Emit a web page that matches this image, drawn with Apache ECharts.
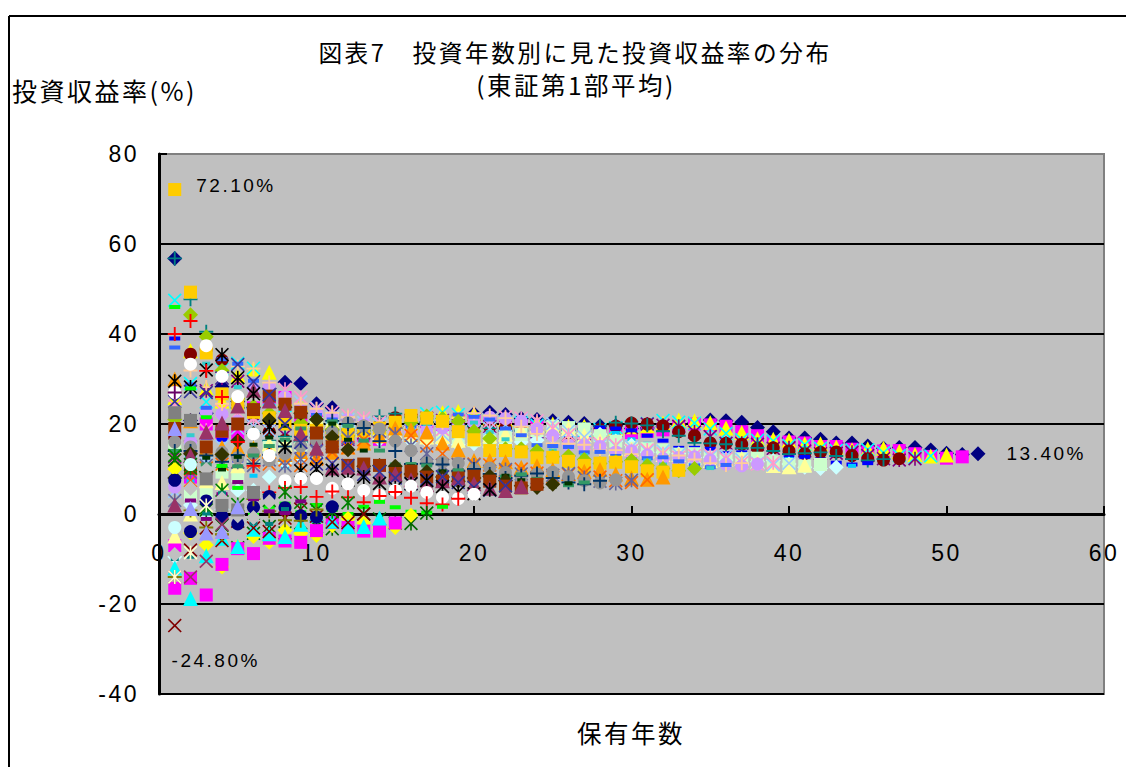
<!DOCTYPE html>
<html>
<head>
<meta charset="utf-8">
<style>html,body{margin:0;padding:0;background:#fff}#chart{width:1126px;height:767px}#chart svg text{letter-spacing:2.5px}</style>
<script src="https://cdn.jsdelivr.net/npm/echarts@6/dist/echarts.min.js"></script>
</head>
<body>
<div id="chart"></div>
<script>
// one list per start year, index = holding years - 1
const r01 = [56.8,20.8,22.4,28.3,25,23.6,27.9,29.3,29,24.5,23.6,20.9,19.6,20,19,19.4,20.4,20.4,20.1,22.3,22.6,22.1,21.2,21,20.7,20.4,20.1,19.6,19.6,19,19.1,19.5,19.7,20.2,20.9,20.7,20.4,19.2,18.3,16.9,16.9,16.6,15.8,15.8,15.1,14.6,14.8,14.8,14.2,13.5,13.2,13.4];
const r02 = [-7,8.2,20,18.1,17.9,23.6,25.7,25.9,21.4,20.7,18.1,17,17.5,16.6,17.3,18.4,18.6,18.4,20.7,21.1,20.7,19.8,19.6,19.4,19.2,18.9,18.4,18.4,17.8,18.1,18.4,18.7,19.3,20,19.8,19.5,18.3,17.4,16,16,15.8,15,15,14.4,13.8,14,14.1,13.4,12.8,12.4,12.7];
const r03 = [25.9,36.3,27.9,25.1,30.9,32.2,31.5,25.5,24.3,21,19.5,19.8,18.7,19.3,20.4,20.4,20,22.5,22.8,22.3,21.3,21,20.7,20.4,20,19.5,19.5,18.9,19,19.4,19.6,20.2,20.9,20.7,20.3,19.1,18.1,16.7,16.6,16.4,15.6,15.6,14.9,14.3,14.5,14.6,13.9,13.2,12.9,13.1];
const r04 = [47.5,29,24.9,32.2,33.5,32.4,25.5,24.1,20.4,18.9,19.2,18.1,18.7,20,20.1,19.7,22.3,22.6,22.1,21,20.8,20.4,20.2,19.7,19.2,19.2,18.6,18.8,19.2,19.5,20.1,20.8,20.4,20.2,18.9,17.9,16.5,16.4,16.2,15.2,15.4,14.6,14.1,14.2,14.3,13.6,13,12.6,12.9];
const r05 = [12.7,14.9,27.4,30.2,29.5,22,21,17.5,16,16.8,15.7,16.6,18,18.3,18,20.8,21.3,20.8,19.8,19.6,19.4,19.1,18.8,18.3,18.3,17.6,17.8,18.3,18.5,19.2,20,19.7,19.5,18.2,17.2,15.7,15.7,15.5,14.6,14.7,14,13.4,13.5,13.7,13,12.3,12,12.3];
const r06 = [17,35.5,36.6,34.2,24,22.5,18.2,16.4,17.2,16.1,17,18.5,18.8,18.4,21.4,21.9,21.3,20.2,20,19.7,19.4,19,18.5,18.5,17.8,18.1,18.5,18.8,19.5,20.2,20,19.6,18.3,17.4,15.8,15.7,15.5,14.6,14.7,14,13.4,13.7,13.8,13,12.3,12,12.3];
const r07 = [56.8,47.7,40.5,25.9,23.6,18.3,16.3,17.2,16,17,18.6,18.9,18.5,21.7,22.3,21.5,20.4,20.2,19.8,19.5,19.1,18.5,18.5,17.8,18.1,18.5,18.9,19.5,20.3,20.1,19.7,18.4,17.4,15.8,15.7,15.5,14.6,14.7,14,13.3,13.5,13.7,12.9,12.2,11.9,12.2];
const r08 = [39,33,17,16.5,11.9,10.7,12.5,11.6,13.3,15.5,16,15.8,19.4,20.1,19.5,18.4,18.3,18.1,17.8,17.5,17,17.1,16.4,16.8,17.2,17.6,18.3,19.2,19,18.6,17.4,16.3,14.7,14.7,14.5,13.5,13.7,13,12.4,12.6,12.7,12.1,11.4,11,11.3];
const r09 = [27.1,7.3,9.7,6,5.8,8.5,8.2,10.4,13.1,13.9,13.9,17.8,18.8,18.3,17.1,17.1,16.9,16.8,16.4,16,16.1,15.5,15.8,16.4,16.8,17.6,18.5,18.3,18,16.6,15.6,14,14,13.8,12.9,13.1,12.3,11.7,12,12.2,11.4,10.7,10.4,10.7];
const r10 = [-9.5,2,-0.3,1,5.2,5.3,8.2,11.4,12.4,12.6,17,18.1,17.6,16.5,16.4,16.3,16.2,15.8,15.4,15.6,14.9,15.4,16,16.4,17.2,18.2,17.9,17.7,16.2,15.3,13.7,13.7,13.4,12.5,12.6,12,11.3,11.6,11.9,11.1,10.4,10.1,10.4];
const r11 = [15,4.6,4.7,9.3,8.5,11.5,14.8,15.6,15.4,20.1,20.9,20.2,18.8,18.5,18.3,17.9,17.6,17,17.1,16.3,16.6,17.2,17.7,18.5,19.5,19.2,18.9,17.4,16.2,14.6,14.5,14.2,13.3,13.4,12.6,12,12.3,12.4,11.6,11,10.6,11];
const r12 = [-4.9,0,7.4,7,10.7,14.8,15.6,15.5,20.7,21.5,20.7,19.1,18.9,18.5,18.2,17.7,17.1,17.2,16.4,16.8,17.4,17.8,18.6,19.7,19.4,19,17.5,16.3,14.5,14.5,14.2,13.2,13.3,12.6,11.9,12.2,12.4,11.6,10.8,10.5,10.9];
const r13 = [5,14.1,11.3,15,19.1,19.5,18.6,24.4,24.9,23.6,21.5,21,20.3,20,19.4,18.6,18.6,17.7,18,18.6,19,19.8,20.9,20.6,20.1,18.4,17.1,15.2,15.1,14.9,13.9,14,13.2,12.4,12.7,12.9,12.1,11.3,10.9,11.3];
const r14 = [24,14.7,18.6,23,22.6,21.2,27.4,27.7,25.9,23.4,22.6,21.9,21.3,20.4,19.6,19.6,18.4,18.8,19.4,19.7,20.6,21.6,21.3,20.7,19,17.6,15.6,15.6,15.3,14.1,14.2,13.4,12.6,13,13.1,12.3,11.4,11.1,11.4];
const r15 = [6,16.1,22.6,22.2,20.6,27.9,28.1,26,23.2,22.5,21.6,21,20.2,19.3,19.2,18.2,18.5,19.1,19.5,20.4,21.5,21.2,20.6,18.8,17.4,15.3,15.2,15,13.8,14,13.1,12.3,12.6,12.7,12,11.1,10.7,11.1];
const r16 = [27,31.9,28.2,24.5,32.8,32.3,29.2,25.6,24.5,23.4,22.5,21.5,20.4,20.3,19,19.4,20,20.3,21.3,22.4,21.9,21.3,19.4,17.8,15.7,15.6,15.4,14.1,14.2,13.3,12.5,12.9,13,12.1,11.3,10.9,11.3];
const r17 = [37,28.8,23.6,34.4,33.4,29.6,25.4,24.2,23,22,21,19.8,19.8,18.4,18.9,19.5,20,20.9,22.1,21.6,21,19,17.5,15.3,15.1,14.9,13.7,13.8,12.9,12.1,12.4,12.6,11.7,10.8,10.4,10.9];
const r18 = [21,17.5,33.4,32.6,28.2,23.6,22.4,21.3,20.4,19.5,18.4,18.4,17.1,17.7,18.4,18.9,20,21.4,20.9,20.3,18.2,16.6,14.5,14.3,14.1,12.9,13.1,12.1,11.3,11.6,11.9,11,10.2,9.7,10.2];
const r19 = [21,44.3,39.4,31.9,25.6,23.9,22.4,21.3,20.2,18.9,18.8,17.4,17.9,18.6,19.2,20.4,21.8,21.2,20.6,18.4,16.8,14.5,14.5,14,12.7,12.9,12.1,11.2,11.6,11.9,10.8,10.1,9.6,10.1];
const r20 = [72.1,49.3,35.8,26.7,24.5,22.6,21.4,20,18.6,18.6,17,17.7,18.5,19.1,20.4,21.9,21.3,20.6,18.3,16.5,14.1,14.1,13.8,12.5,12.6,11.7,10.8,11.3,11.5,10.5,9.6,9.3,9.7];
const r21 = [30,20.7,14.5,14.8,14.7,14.6,14,13.2,13.9,12.6,13.7,14.9,15.8,17.4,19.1,18.7,18.2,15.8,14.2,11.9,11.9,11.6,10.4,10.7,9.9,9,9.5,9.9,8.9,8,7.7,8.2];
const r22 = [12,7.4,10.2,11.1,11.6,11.5,11.1,12,10.8,12.2,13.7,14.7,16.5,18.4,17.9,17.5,15.1,13.4,11,11.1,10.9,9.6,10,9.1,8.2,8.8,9.1,8.2,7.4,7,7.6];
const r23 = [3,9.3,10.8,11.6,11.5,10.8,12,10.7,12.2,13.9,15,16.9,18.9,18.4,17.8,15.2,13.4,10.8,11,10.9,9.5,9.9,8.9,8.1,8.6,9,8.1,7.3,6.8,7.5];
const r24 = [16,14.9,14.6,13.7,12.5,13.5,11.9,13.4,15.1,16.3,18.2,20.3,19.6,18.9,16.2,14.1,11.4,11.5,11.3,9.9,10.2,9.2,8.3,8.9,9.3,8.3,7.4,6.9,7.6];
const r25 = [14,14,13,11.6,13.1,11.2,13.1,15,16.3,18.4,20.7,20,19.1,16.2,14,11.1,11.2,11,9.5,10,8.9,8,8.5,9,8,7,6.6,7.4];
const r26 = [14,12.5,11,13,10.6,13,15.1,16.5,19,21.4,20.6,19.6,16.3,14.1,11,11.1,10.8,9.3,9.7,8.7,7.7,8.3,8.8,7.8,6.8,6.4,7];
const r27 = [11,9.4,12.5,9.9,12.7,15.4,17,19.6,22.3,21.2,20.1,16.5,14.1,10.7,10.8,10.6,9,9.5,8.3,7.5,8.1,8.5,7.5,6.5,6.1,6.8];
const r28 = [8,13.4,9.4,13.2,16.3,17.9,20.9,23.7,22.4,21,17.1,14.3,10.6,10.8,10.6,8.9,9.4,8.2,7.3,8,8.4,7.4,6.3,5.9,6.6];
const r29 = [19,10.2,14.9,18.4,20,23.2,26.2,24.4,22.6,18,14.9,10.8,11.1,10.8,9,9.5,8.2,7.3,8,8.4,7.3,6.2,5.8,6.6];
const r30 = [2,13,18.2,20.2,24,27.5,25.1,23,17.9,14.6,10.2,10.4,10.2,8.2,8.9,7.6,6.5,7.4,8,6.7,5.7,5.2,6.1];
const r31 = [25,27.2,27,30.2,33.2,29.4,26.5,20,15.9,11.1,11.2,10.8,8.8,9.4,8,6.8,7.7,8.3,7,5.9,5.3,6.3];
const r32 = [29.5,28.2,32,35.4,30.3,26.7,19.4,14.9,9.6,10,9.7,7.5,8.2,6.8,5.8,6.7,7.4,6.1,4.9,4.5,5.4];
const r33 = [27,33.3,37.4,30.6,26.1,17.8,13,7.4,7.9,7.9,5.7,6.7,5.2,4.2,5.3,6.2,4.8,3.7,3.4,4.4];
const r34 = [40,42.9,31.8,26,16,10.7,4.8,5.8,6,3.8,5,3.7,2.6,4,4.9,3.6,2.4,2.1,3.4];
const r35 = [46,27.9,21.5,10.7,5.8,-0.2,1.6,2.3,0.4,2,0.9,0,1.6,2.7,1.5,0.5,0.3,1.6];
const r36 = [12,11,0.9,-2.5,-7.5,-4.3,-2.8,-4.2,-2,-2.8,-3.3,-1.5,0,-1.1,-2,-2.1,0.2];
const r37 = [10,-4.2,-6.9,-11.8,-7.3,-5,-6.3,-3.6,-4.3,-4.8,-2.6,-1,-2,-3,-3,-0.3];
const r38 = [-16.5,-14.3,-18,-11.2,-7.7,-8.8,-5.4,-6,-6.3,-3.7,-1.9,-3,-3.8,-3.8,-2];
const r39 = [-12,-18.8,-9.3,-5.4,-7.2,-3.4,-4.4,-5,-2.3,-0.3,-1.6,-2.8,-2.8,-0.9];
const r40 = [-24.8,-8,-3.1,-5.9,-1.6,-3.1,-3.9,-0.9,1.1,-0.5,-1.8,-1.9,0];
const r41 = [13,10.2,1.4,5.3,2.1,0.2,3,4.9,2.6,0.9,0.5,2.5];
const r42 = [7.5,-3.9,2.9,-0.5,-2.2,1.5,3.9,1.4,-0.4,-0.7,1.6];
const r43 = [-14,0.8,-3,-4.5,0.4,3.3,0.6,-1.4,-1.5,1];
const r44 = [18,3,-1.1,4.4,7.1,3.3,0.6,0.2,2.8];
const r45 = [-10,-9.5,0.1,4.6,0.5,-2.1,-2.2,1.1];
const r46 = [-9,5.7,9.9,3.4,-0.4,-0.8,2.7];
const r47 = [22.5,20.8,7.8,1.9,0.9,4.8];
const r48 = [19,1.2,-4.2,-3.9,1.6];
const r49 = [-14,-14,-10.5,-2.3];
const r50 = [-14,-8.6,1.9];
const r51 = [-3,11];
const r52 = [27];

const allReturns = [r01,r02,r03,r04,r05,r06,r07,r08,r09,r10,r11,r12,r13,r14,r15,r16,r17,r18,r19,r20,r21,r22,r23,r24,r25,r26,r27,r28,r29,r30,r31,r32,r33,r34,r35,r36,r37,r38,r39,r40,r41,r42,r43,r44,r45,r46,r47,r48,r49,r50,r51,r52];

const xTicks = [0, 60];
const yTicks = [-40, 80];

// old Excel palette, in series order
const colors = ['#000080','#FF00FF','#FFFF00','#00FFFF','#800080','#800000','#008080','#0000FF','#00CCFF','#CCFFFF','#CCFFCC','#FFFF99','#99CCFF','#FF99CC','#CC99FF','#FFCC99','#3366FF','#33CCCC','#99CC00','#FFCC00','#FF9900','#FF6600','#666699','#969696','#003366','#339966','#003300','#333300','#993300','#993366','#333399','#000000','#FFFFFF','#FF0000','#00FF00','#006600','#FFFF00','#FF00FF','#00FFFF','#800000','#008000','#000080','#808000','#800080','#008080','#C0C0C0','#808080','#9999FF','#993366','#FFFFCC','#CCFFFF','#660066'];

const X_PATH = 'path://M0 1L1 0L6 5L11 0L12 1L7 6L12 11L11 12L6 7L1 12L0 11L5 6Z';
const PLUS_PATH = 'path://M5.2 0H6.8V5.2H12V6.8H6.8V12H5.2V6.8H0V5.2H5.2Z';
const STAR_PATH = 'path://M0 1L1 0L5.3 4.3V0H6.7V4.3L11 0L12 1L7 6L12 11L11 12L6.7 7.7V12H5.3V7.7L1 12L0 11L5 6Z';

const markers = [
  { symbol: 'diamond', size: 15 },
  { symbol: 'rect', size: 13 },
  { symbol: 'triangle', size: 15 },
  { symbol: X_PATH, size: 14 },
  { symbol: STAR_PATH, size: 14 },
  { symbol: 'circle', size: 13 },
  { symbol: PLUS_PATH, size: 14 },
  { symbol: 'rect', size: [11, 4] },
  { symbol: 'rect', size: [8, 4] },
];

const labelFont = { color: '#000', fontFamily: 'Liberation Sans', fontSize: 19 };
const pointLabels = {
  '0-51': { show: true, formatter: '13.40%', position: 'right', distance: 21, ...labelFont },
  '19-0': { show: true, formatter: '72.10%', position: 'right', distance: 15, offset: [0, -4], ...labelFont },
  '39-0': { show: true, formatter: '-24.80%', position: 'bottom', distance: 18, offset: [41, 0], ...labelFont },
};

const series = allReturns.map((values, idx) => {
  // the 36th series shows as a star in the picture, not a short dash
  const marker = idx === 35 ? markers[4] : markers[idx % 9];
  return {
    type: 'scatter',
    symbol: marker.symbol,
    symbolSize: marker.size,
    silent: true,
    itemStyle: { color: colors[idx], opacity: 1 },
    data: values.map((v, i) => {
      const lbl = pointLabels[idx + '-' + i];
      return lbl ? { value: [i + 1, v], label: lbl } : [i + 1, v];
    }),
  };
});

const cjkText = (fontSize) => ({ fontFamily: 'Noto Sans CJK JP', fontWeight: 'normal', fontSize: fontSize, color: '#000' });

const chart = echarts.init(document.getElementById('chart'), null, { renderer: 'svg' });
chart.setOption({
  animation: false,
  backgroundColor: '#fff',
  title: [
    { text: '図表7\u3000投資年数別に見た投資収益率の分布', left: 575, top: 40, padding: 0, textAlign: 'center', textStyle: cjkText(23.7) },
    { text: '(東証第1部平均)', left: 576, top: 72, padding: 0, textAlign: 'center', textStyle: cjkText(24.5) },
    { text: '投資収益率(%)', left: 12, top: 77, padding: 0, textStyle: cjkText(25) },
    { text: '保有年数', left: 631, top: 720, padding: 0, textAlign: 'center', textStyle: cjkText(24.5) },
  ],
  graphic: [
    { type: 'line', shape: { x1: 9, y1: 16, x2: 1126, y2: 16 }, style: { stroke: '#000', lineWidth: 2 } },
    { type: 'line', shape: { x1: 9, y1: 16, x2: 9, y2: 767 }, style: { stroke: '#000', lineWidth: 2 } },
  ],
  grid: { left: 159, right: 22, top: 154, bottom: 73, show: true, backgroundColor: '#C0C0C0', borderColor: '#808080', borderWidth: 2 },
  xAxis: {
    type: 'value', min: xTicks[0], max: xTicks[1], interval: 10,
    splitLine: { show: false },
    axisLine: { onZero: true, lineStyle: { color: '#000', width: 3 } },
    axisTick: { inside: true, length: 8, lineStyle: { color: '#000', width: 2 } },
    // labels stay at the grid bottom with onZero, so pull them up to the zero line
    axisLabel: { margin: -153, color: '#000', fontFamily: 'Liberation Sans', fontSize: 23, showMinLabel: true, showMaxLabel: true },
  },
  yAxis: {
    type: 'value', min: yTicks[0], max: yTicks[1], interval: 20,
    splitLine: { show: true, showMaxLine: false, lineStyle: { color: '#000', width: 2 } },
    axisLine: { show: true, lineStyle: { color: '#000', width: 3 } },
    axisTick: { show: true, inside: true, length: 8, lineStyle: { color: '#000', width: 2 } },
    axisLabel: { margin: 20, color: '#000', fontFamily: 'Liberation Sans', fontSize: 23, showMinLabel: true, showMaxLabel: true },
  },
  series: series,
});
</script>
</body>
</html>
